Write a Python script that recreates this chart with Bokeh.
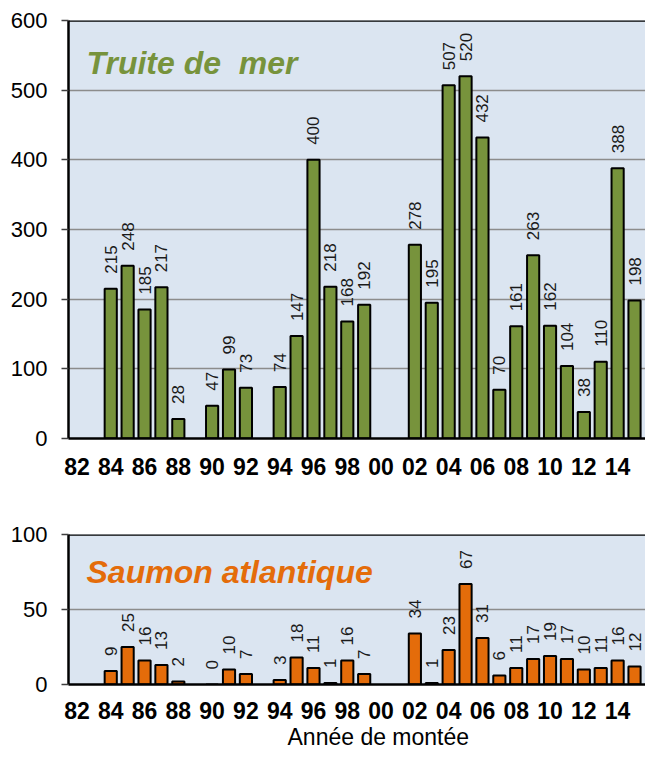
import math
from bokeh.plotting import figure
from bokeh.layouts import column
from bokeh.models import ColumnDataSource, Range1d, FixedTicker, Span, Label, Title
from bokeh.embed import file_html
from bokeh.resources import INLINE
from bokeh.core.properties import value

# ---- data ----
years = list(range(1982, 2016))
truite = [None, None, 215, 248, 185, 217, 28, None, 47, 99, 73, None, 74, 147,
          400, 218, 168, 192, None, None, 278, 195, 507, 520, 432, 70, 161, 263,
          162, 104, 38, 110, 388, 198]
saumon = [None, None, 9, 25, 16, 13, 2, None, 0, 10, 7, None, 3, 18, 11, 1, 16,
          7, None, None, 34, 1, 23, 67, 31, 6, 11, 17, 19, 17, 10, 11, 16, 12]
tick_years = [1982, 1984, 1986, 1988, 1990, 1992, 1994, 1996, 1998, 2000, 2002,
              2004, 2006, 2008, 2010, 2012, 2014]
tick_labels = ["82", "84", "86", "88", "90", "92", "94", "96", "98", "00", "02",
               "04", "06", "08", "10", "12", "14"]
truite_yticks = [0, 100, 200, 300, 400, 500, 600]
saumon_yticks = [0, 50, 100]
x_title = "Année de montée"

FONT = "Liberation Sans"
BG = "#DBE5F1"


def make_chart(vals, color, title, yticks, height, b_top, b_bottom, title_y,
               x_standoff):
    xs = [y for y, v in zip(years, vals) if v is not None]
    vs = [v for v in vals if v is not None]
    src = ColumnDataSource(dict(x=xs, top=vs, lab=[str(v) for v in vs]))
    ymax = yticks[-1]
    p = figure(width=645, height=height,
               x_range=Range1d(1981.5, 2015.65), y_range=Range1d(0, ymax),
               output_backend="svg", toolbar_location=None,
               min_border_left=68, min_border_right=0,
               min_border_top=b_top, min_border_bottom=b_bottom)
    p.background_fill_color = BG
    p.border_fill_color = "white"
    p.outline_line_color = None

    p.xgrid.visible = False
    p.ygrid.ticker = FixedTicker(ticks=yticks[1:-1])
    p.ygrid.grid_line_color = "#8C8C8C"
    p.ygrid.grid_line_width = 1.5

    p.vbar(x="x", top="top", bottom=0, width=0.72, source=src,
           fill_color=color, line_color="black", line_width=2)
    p.text(x="x", y="top", text="lab", source=src, angle=math.pi / 2,
           text_align="left", text_baseline="middle", y_offset=-15, x_offset=0,
           text_font=value(FONT), text_font_size="17px", text_color="#1a1a1a")

    p.add_layout(Span(location=ymax, dimension="width", line_color="black",
                      line_width=2.5))

    p.yaxis.ticker = FixedTicker(ticks=yticks)
    p.yaxis.major_label_text_font = FONT
    p.yaxis.major_label_text_font_size = "22px"
    p.yaxis.major_label_text_color = "black"
    p.yaxis.axis_line_color = "black"
    p.yaxis.axis_line_width = 2.5
    p.yaxis.major_tick_out = 7
    p.yaxis.major_tick_in = 0
    p.yaxis.major_tick_line_color = "#404040"
    p.yaxis.major_tick_line_width = 1.5
    p.yaxis.minor_tick_line_color = None
    p.yaxis.major_label_standoff = 14

    p.xaxis.ticker = FixedTicker(ticks=tick_years)
    p.xaxis.major_label_overrides = {y: s for y, s in zip(tick_years, tick_labels)}
    p.xaxis.major_label_text_font = FONT
    p.xaxis.major_label_text_font_style = "bold"
    p.xaxis.major_label_text_font_size = "23px"
    p.xaxis.major_label_text_color = "black"
    p.xaxis.axis_line_color = "black"
    p.xaxis.axis_line_width = 2.5
    p.xaxis.major_tick_out = 0
    p.xaxis.major_tick_in = 0
    p.xaxis.minor_tick_line_color = None
    p.xaxis.major_label_standoff = x_standoff

    p.add_layout(Label(x=18, y=title_y, x_units="screen", y_units="screen",
                       text=title, text_font=FONT, text_font_style="bold italic",
                       text_font_size="32px", text_color=color,
                       text_baseline="alphabetic"))
    return p


p1 = make_chart(truite, "#77933C", "Truite de \u00a0mer", truite_yticks,
                height=480, b_top=20, b_bottom=42, title_y=376, x_standoff=19)
p2 = make_chart(saumon, "#E46C0A", "Saumon atlantique", saumon_yticks,
                height=269, b_top=54, b_bottom=63, title_y=113, x_standoff=17)
p2.add_layout(Title(text=x_title, align="left", offset=219, standoff=0,
                    text_font=FONT, text_font_size="23px",
                    text_font_style="normal", text_color="black"), "below")

layout = column(p1, p2, spacing=0)
open("out.html", "w").write(file_html(layout, INLINE))
